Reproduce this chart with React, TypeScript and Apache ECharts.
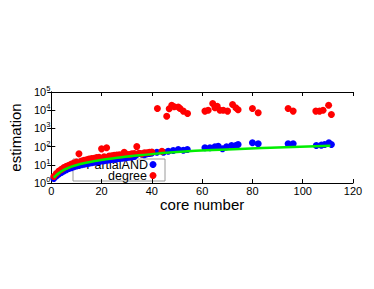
import React, { useEffect, useRef } from "react";
import * as echarts from "echarts";

const xTickValues = [0, 20, 40, 60, 80, 100, 120];
const yTickExponents = [0, 1, 2, 3, 4, 5];

// PartialAND estimation per core number
const partialX = [
  1, 2, 3, 4, 5, 6, 7, 8, 9, 10, 11, 12, 13, 14, 15, 16, 17, 18, 19, 20,
  21, 22, 23, 24, 25, 26, 27, 28, 29, 30, 31, 32, 33, 34, 35, 36, 37, 38, 39, 40,
  42, 44.6, 46.5, 48.5, 50.5, 52.5, 54.1,
  61.1, 63.1, 65.1, 66.4, 68.1, 69.7, 71.7, 73.4, 74.3,
  80, 82.3, 94.2, 96.2, 105.4, 107.4, 108.7, 110.4, 111.4,
];
const partialY = [
  1.8, 2.4, 3.1, 3.8, 4.6, 5.4, 6.2, 7, 7.8, 8.5, 9.3, 10.1, 10.8, 11.6, 12.3, 13, 13.8, 14.5, 15.3, 16.1,
  17, 17.7, 18.5, 19.4, 20.2, 21, 22, 23, 24, 25, 26, 27, 29, 37, 42, 38, 36, 40, 42, 44,
  49, 49, 56, 61, 69, 63, 69,
  86, 86, 97, 105, 76, 97, 115, 115, 130,
  162, 142, 142, 142, 115, 120, 130, 162, 130,
];

// degree estimation per core number
const degreeX = [
  1, 2, 3, 4, 5, 6, 7, 8, 9, 10, 11, 12, 13, 14, 15, 16, 17, 18, 19, 20,
  21, 22, 23, 24, 25, 26, 27, 28, 29, 30, 31, 32, 33, 34, 35, 36, 37, 38, 39, 40,
  42.2, 44, 45.9, 46.9, 47.9, 48.9, 50.5, 51.2, 52.5, 54.2,
  61.1, 62.4, 64.2, 65.1, 66, 67.1, 68.4, 70.1, 72.1, 73.4, 74.3,
  80, 82.3, 94.2, 96.2, 105.2, 106.7, 108.1, 110.3, 111.4,
];
const degreeY = [
  2.3, 3.3, 4.5, 5.6, 7, 8.2, 9.5, 11, 12.5, 14, 40, 16, 17.5, 19, 20.5, 22, 23, 25, 26, 75,
  28, 86, 30, 31, 33, 34, 35, 36, 48, 38, 37, 40, 42, 100, 43, 40, 46, 46, 48, 50,
  12300, 56, 4700, 12000, 18700, 15400, 15000, 12300, 8900, 6600,
  8900, 10000, 23300, 13500, 16600, 10000, 10000, 8900, 20500, 13500, 10500,
  12300, 7200, 12300, 8900, 8900, 8900, 10000, 18700, 5800,
];

// fitted curve
const fitX = [1, 2, 3, 5, 8, 12, 18, 25, 35, 50, 70, 90, 111];
const fitY = [2, 2.7, 3.5, 5.2, 8, 11.5, 16.5, 23, 33, 50, 70, 90, 113];

const FONT = "Liberation Sans, Arial, sans-serif";

export default function App() {
  const ref = useRef<HTMLDivElement>(null);

  useEffect(() => {
    if (!ref.current) return;
    const chart = echarts.init(ref.current, undefined, { renderer: "svg" });

    const yLabel = (v: number) => {
      const e = Math.round(Math.log10(v));
      return yTickExponents.includes(e) ? `{b|10}{s|${e}}` : "";
    };

    const option: any = {
      animation: false,
      backgroundColor: "#ffffff",
      grid: { left: 51, right: 21, top: 92, bottom: 106, containLabel: false },
      xAxis: [
        {
          type: "value",
          min: xTickValues[0],
          max: xTickValues[xTickValues.length - 1],
          interval: 20,
          name: "core number",
          nameLocation: "middle",
          nameGap: 8,
          nameTextStyle: { fontSize: 15, fontFamily: FONT, color: "#000" },
          axisLine: { show: true, lineStyle: { color: "#000", width: 1 } },
          axisTick: { show: true, inside: true, length: 4, lineStyle: { color: "#000" } },
          axisLabel: { color: "#000", fontSize: 11, fontFamily: FONT, margin: 2 },
          splitLine: { show: false },
        },
        {
          type: "value",
          position: "top",
          min: xTickValues[0],
          max: xTickValues[xTickValues.length - 1],
          interval: 20,
          axisLine: { show: true, lineStyle: { color: "#000", width: 1 } },
          axisTick: { show: true, inside: true, length: 4, lineStyle: { color: "#000" } },
          axisLabel: { show: false },
          splitLine: { show: false },
        },
      ],
      yAxis: [
        {
          type: "log",
          logBase: 10,
          min: 1,
          max: 100000,
          name: "estimation",
          nameLocation: "middle",
          nameRotate: 90,
          nameGap: 21,
          nameTextStyle: { fontSize: 15, fontFamily: FONT, color: "#000" },
          axisLine: { show: true, lineStyle: { color: "#000", width: 1 } },
          axisTick: { show: true, inside: true, length: 4, lineStyle: { color: "#000" } },
          axisLabel: {
            color: "#000",
            margin: 1,
            formatter: yLabel,
            rich: {
              b: { fontSize: 11, fontFamily: FONT, color: "#000", lineHeight: 15 },
              s: { fontSize: 7.5, fontFamily: FONT, color: "#000", verticalAlign: "top", lineHeight: 8 },
            },
          },
          splitLine: { show: false },
        },
        {
          type: "log",
          logBase: 10,
          min: 1,
          max: 100000,
          position: "right",
          axisLine: { show: true, lineStyle: { color: "#000", width: 1 } },
          axisTick: { show: true, inside: true, length: 4, lineStyle: { color: "#000" } },
          axisLabel: { show: false },
          splitLine: { show: false },
        },
      ],
      series: [
        {
          name: "PartialAND",
          type: "scatter",
          xAxisIndex: 0,
          yAxisIndex: 0,
          symbolSize: 7,
          itemStyle: { color: "#0000ff", opacity: 1 },
          data: partialX.map((x, i) => [x, partialY[i]]),
          z: 3,
        },
        {
          name: "degree",
          type: "scatter",
          xAxisIndex: 0,
          yAxisIndex: 0,
          symbolSize: 7,
          itemStyle: { color: "#ff0000", opacity: 1 },
          data: degreeX.map((x, i) => [x, degreeY[i]]),
          z: 4,
        },
        {
          name: "fit",
          type: "line",
          xAxisIndex: 0,
          yAxisIndex: 0,
          showSymbol: false,
          smooth: true,
          lineStyle: { color: "#00ee00", width: 2.5 },
          data: fitX.map((x, i) => [x, fitY[i]]),
          z: 5,
        },
      ],
      graphic: [
        {
          type: "rect",
          shape: { x: 73, y: 159, width: 92, height: 22 },
          style: { fill: "#ffffff", stroke: "#9a9a9a", lineWidth: 1 },
          z: 0,
        },
        {
          type: "text",
          style: {
            text: "PartialAND",
            x: 148,
            y: 165,
            fill: "#000",
            font: `12.5px ${FONT}`,
            textAlign: "right",
            textVerticalAlign: "middle",
          },
          z: 0,
        },
        {
          type: "text",
          style: {
            text: "degree",
            x: 147,
            y: 176,
            fill: "#000",
            font: `12.5px ${FONT}`,
            textAlign: "right",
            textVerticalAlign: "middle",
          },
          z: 0,
        },
        { type: "circle", shape: { cx: 153, cy: 164.5, r: 3.5 }, style: { fill: "#0000ff" }, z: 0 },
        { type: "circle", shape: { cx: 153, cy: 175.5, r: 3.5 }, style: { fill: "#ff0000" }, z: 0 },
      ],
    };

    chart.setOption(option);
    return () => chart.dispose();
  }, []);

  return (
    <div
      ref={ref}
      style={{ position: "absolute", left: 0, top: 0, width: 374, height: 289, background: "#fff" }}
    />
  );
}
